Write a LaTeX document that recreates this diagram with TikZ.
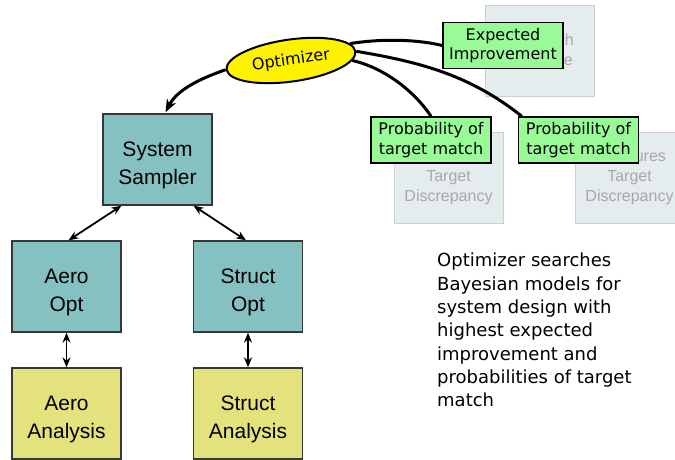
\documentclass[tikz,border=0pt]{standalone}
\usepackage{fontspec}
\setmainfont{Liberation Sans}
\newfontfamily\dejavu{DejaVu Sans}
\usetikzlibrary{shapes.geometric,arrows.meta,calc}

\definecolor{tealbox}{RGB}{133,193,193}
\definecolor{anfill}{RGB}{227,226,125}
\definecolor{boxedge}{RGB}{55,55,55}
\definecolor{metricfill}{RGB}{152,251,152}
\definecolor{ghostfill}{RGB}{229,236,237}
\definecolor{ghostedge}{RGB}{204,208,208}
\definecolor{ghosttext}{RGB}{168,168,168}

\pgfdeclarelayer{ghostlayer}
\pgfdeclarelayer{linklayer}
\pgfsetlayers{ghostlayer,linklayer,main}

% taller first line so the two-line labels sit a little lower in their boxes
\newcommand{\lowerlabel}{\rule{0pt}{27pt}}

\begin{document}
\begin{tikzpicture}[x=1pt,y=-1pt,
  modbox/.style={draw=boxedge, line width=1.3pt, minimum width=109pt,
    minimum height=91pt, inner sep=0pt, align=center,
    font=\fontsize{21}{28}\selectfont},
  optbox/.style={modbox, fill=tealbox},
  anbox/.style={modbox, fill=anfill},
  ghost/.style={draw=ghostedge, line width=1pt, fill=ghostfill, text=ghosttext,
    minimum width=109pt, minimum height=91pt, inner sep=0pt, align=center,
    font=\fontsize{16}{20}\selectfont},
  metric/.style={draw=black, line width=1.5pt, fill=metricfill,
    minimum width=120pt, minimum height=46pt, inner sep=0pt, align=center,
    font=\dejavu\fontsize{16}{19.5}\selectfont},
  link/.style={line width=3pt},
  dbl/.style={line width=1.8pt,
    {Stealth[length=10pt,width=8pt]}-{Stealth[length=10pt,width=8pt]}}
]
\useasboundingbox (0,0) rectangle (675,459);

% faded surrogate-model boxes in the background
\begin{pgfonlayer}{ghostlayer}
\node[ghost] (gobj) at (539.5,51) {Approach\\Objective};
\node[ghost] (gaero) at (448.5,177.5) {Aero\\Target\\Discrepancy};
\node[ghost] (gstruct) at (629.5,177.5) {Structures\\Target\\Discrepancy};
\end{pgfonlayer}

% discipline hierarchy
\node[optbox] (samp) at (157.5,159.5) {\lowerlabel System\\Sampler};
\node[optbox] (aopt) at (66.5,286.5) {\lowerlabel Aero\\Opt};
\node[optbox] (sopt) at (248,286.5) {\lowerlabel Struct\\Opt};
\node[anbox] (aan) at (66.5,413.5) {\lowerlabel Aero\\Analysis};
\node[anbox] (san) at (248,413.5) {\lowerlabel Struct\\Analysis};

\draw[dbl] ($(samp.south)+(-36,0)$) -- ($(aopt.north)+(2,0)$);
\draw[dbl] ($(samp.south)+(36,0)$) -- ($(sopt.north)+(-2,0)$);
\draw[dbl] (aopt.south) -- (aan.north);
\draw[dbl] (sopt.south) -- (san.north);

% optimizer and its acquisition criteria
\node[ellipse, draw=black, line width=2pt, fill=yellow, rotate=8,
  minimum width=130pt, minimum height=42pt, inner sep=0pt,
  font=\dejavu\fontsize{16}{19}\selectfont] (opt) at (291,60.5) {Optimizer};

\node[metric] (ei) at (503,45.5) {Expected\\Improvement};
\node[metric] (lp) at (431,140) {Probability of\\target match};
\node[metric] (rp) at (578.5,140) {Probability of\\target match};

\coordinate (sampin) at ($(samp.north)+(8,-1)$);

\begin{pgfonlayer}{linklayer}
\draw[link, -{Stealth[length=13pt,width=10pt,inset=4pt]}]
  (opt.west) .. controls (205,77) and (178,88) .. (sampin);
\draw[link] (opt.8) .. controls (385,38) and (420,40) .. (ei.west);
\draw[link] (opt.east) .. controls (420,62) and (470,75) .. ($(rp.north west)+(4,0)$);
\draw[link] (opt.-8) .. controls (385,68) and (415,92) .. (lp.north);
\end{pgfonlayer}

% explanatory text
\node[anchor=north west, inner sep=0pt, align=left,
  font=\dejavu\fontsize{18}{23.3}\selectfont] (note) at (437,253)
  {Optimizer searches\\Bayesian models for\\system design with\\highest expected\\improvement and\\probabilities of target\\match};
\end{tikzpicture}
\end{document}
